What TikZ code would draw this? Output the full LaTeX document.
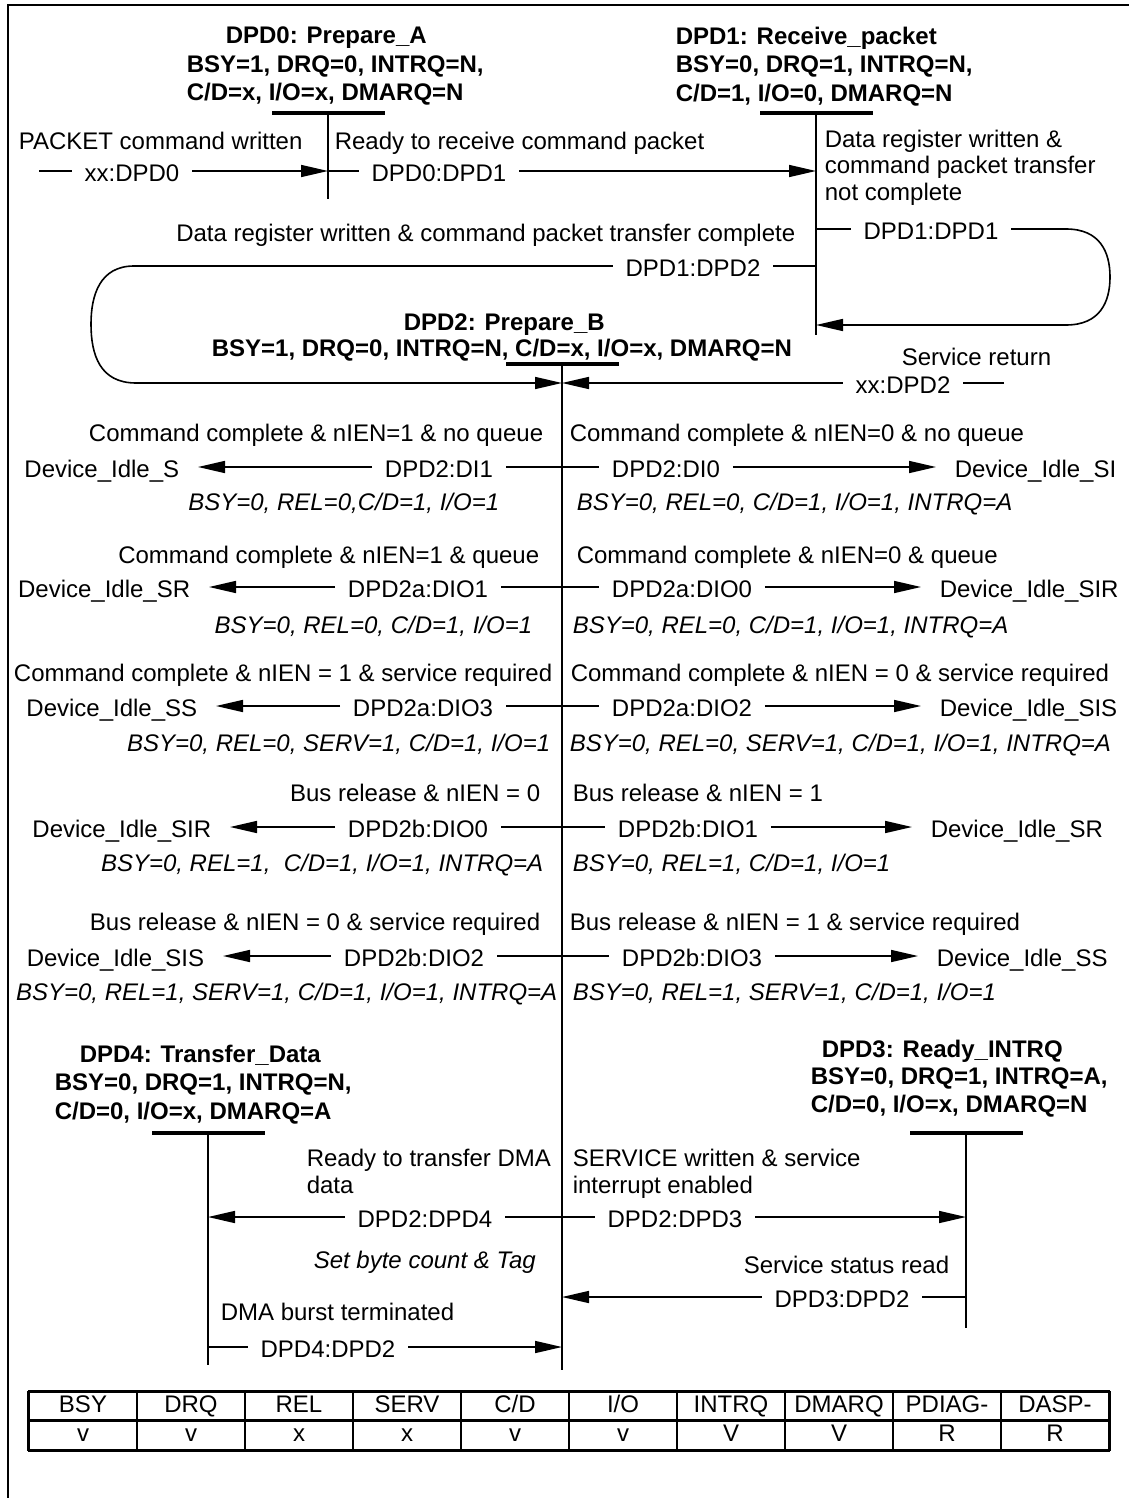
\documentclass[tikz,border=0pt]{standalone}
\usepackage{fontspec}
\setmainfont{Liberation Sans}
\usetikzlibrary{positioning}
\usetikzlibrary{arrows.meta}

\begin{document}
\begin{tikzpicture}[x=1pt,y=-1pt,line width=1.6pt,
  >={Triangle[length=27pt,width=12pt]},
  every node/.style={font=\fontsize{24}{27}\selectfont,inner sep=0pt},
  title/.style={font=\fontsize{24}{28.5}\selectfont\bfseries,align=left,anchor=north west},
  bar/.style={fill=black,minimum width=113pt,minimum height=4pt},
  lbl/.style={text height=22pt,text depth=1pt,inner xsep=12pt},
  dev/.style={text height=22pt,text depth=1pt,inner xsep=18pt},
  cond/.style={align=left,anchor=north west},
  note/.style={font=\fontsize{24}{27}\selectfont\itshape},
  cell/.style={draw,minimum width=108pt,minimum height=29pt,text height=17pt,text depth=6pt}]
\useasboundingbox (0,0) rectangle (1129,1498);
\draw[line width=2.5pt] (8,1498) -- (8,5) -- (1129,5);

% states
\node[title] (s0) at (186,26) {\hspace*{39pt}DPD0: Prepare\_A\\BSY=1, DRQ=0, INTRQ=N,\\C/D=x, I/O=x, DMARQ=N};
\node[title] (s1) at (675,26) {DPD1: Receive\_packet\\BSY=0, DRQ=1, INTRQ=N,\\C/D=1, I/O=0, DMARQ=N};
\node[title,font=\fontsize{24}{26}\selectfont\bfseries] (s2) at (211,313) {\hspace*{192pt}DPD2: Prepare\_B\\BSY=1, DRQ=0, INTRQ=N, C/D=x, I/O=x, DMARQ=N};
\node[title,font=\fontsize{24}{27.5}\selectfont\bfseries] (s3) at (810,1039) {\hspace*{11pt}DPD3: Ready\_INTRQ\\BSY=0, DRQ=1, INTRQ=A,\\C/D=0, I/O=x, DMARQ=N};
\node[title] (s4) at (54,1044) {\hspace*{25pt}DPD4: Transfer\_Data\\BSY=0, DRQ=1, INTRQ=N,\\C/D=0, I/O=x, DMARQ=A};

\node[bar] (b0) at (328,113) {};
\node[bar] (b1) at (816,113) {};
\node[bar] (b2) at (562,364) {};
\node[bar] (b3) at (966,1133) {};
\node[bar] (b4) at (208,1133) {};

\coordinate[below=86pt of b0.center] (e0);
\coordinate[below=222pt of b1.center] (e1);
\coordinate[below=1006pt of b2.center] (e2);
\coordinate[below=195pt of b3.center] (e3);
\coordinate[below=232pt of b4.center] (e4);
\draw (b0.center) -- (e0);
\draw (b1.center) -- (e1);
\draw (b2.center) -- (e2);
\draw (b3.center) -- (e3);
\draw (b4.center) -- (e4);

% top part
\node[anchor=base west] (c00) at (18,150) {PACKET command written};
\node[anchor=base west] (c01) at (334,150) {Ready to receive command packet};
\node[cond,font=\fontsize{24}{26.5}\selectfont] (c11) at (824,129) {Data register written \&\\command packet transfer\\not complete};
\node[anchor=base east] (c12) at (796,241) {Data register written \& command packet transfer complete};
\node[anchor=base west] (c22) at (901,365) {Service return};

\coordinate (x0) at (39,171);
\node[lbl] (t00) at (132,171) {xx:DPD0};
\draw[->] (x0) -- (t00) -- (b0 |- t00);

\node[lbl] (t01) at (439,171) {DPD0:DPD1};
\draw[->] (b0 |- t01) -- (t01) -- (b1 |- t01);

\node[lbl] (t11) at (931,229) {DPD1:DPD1};
\coordinate (r0) at (1066,229);
\coordinate (r1) at (1066,325);
\draw[->] (b1 |- t11) -- (t11) -- (r0) .. controls (1100,229) and (1110,252) .. (1110,277)
  .. controls (1110,302) and (1100,325) .. (r1) -- (b1 |- r1);

\node[lbl] (t12) at (693,266) {DPD1:DPD2};
\coordinate (l0) at (134,266);
\coordinate (l1) at (136,383);
\draw[->] (b1 |- t12) -- (t12) -- (l0) .. controls (100,266) and (91,295) .. (91,324)
  .. controls (91,355) and (100,383) .. (l1) -- (b2 |- l1);

\coordinate (x2) at (1004,383);
\node[lbl] (t22) at (903,383) {xx:DPD2};
\draw[->] (x2) -- (t22) -- (b2 |- t22);

% DPD2 to idle
\node[anchor=base east] (ca1) at (544,441) {Command complete \& nIEN=1 \& no queue};
\node[anchor=base west] (ca0) at (569,441) {Command complete \& nIEN=0 \& no queue};
\node[lbl] (ta1) at (439,467) {DPD2:DI1};
\node[dev,anchor=east] (da1) at (198,467) {Device\_Idle\_S};
\node[lbl] (ta0) at (666,467) {DPD2:DI0};
\node[dev,anchor=west] (da0) at (936,467) {Device\_Idle\_SI};
\draw[->] (b2 |- ta1) -- (ta1) -- (da1);
\draw[->] (b2 |- ta0) -- (ta0) -- (da0);
\node[note,anchor=base east] (na1) at (500,510) {BSY=0, REL=0,C/D=1, I/O=1};
\node[note,anchor=base west] (na0) at (576,510) {BSY=0, REL=0, C/D=1, I/O=1, INTRQ=A};

\node[anchor=base east] (cb1) at (540,563) {Command complete \& nIEN=1 \& queue};
\node[anchor=base west] (cb0) at (576,563) {Command complete \& nIEN=0 \& queue};
\node[lbl] (tb1) at (418,587) {DPD2a:DIO1};
\node[dev,anchor=east] (db1) at (209,587) {Device\_Idle\_SR};
\node[lbl] (tb0) at (682,587) {DPD2a:DIO0};
\node[dev,anchor=west] (db0) at (921,587) {Device\_Idle\_SIR};
\draw[->] (b2 |- tb1) -- (tb1) -- (db1);
\draw[->] (b2 |- tb0) -- (tb0) -- (db0);
\node[note,anchor=base east] (nb1) at (533,633) {BSY=0, REL=0, C/D=1, I/O=1};
\node[note,anchor=base west] (nb0) at (572,633) {BSY=0, REL=0, C/D=1, I/O=1, INTRQ=A};

\node[anchor=base east] (cc3) at (553,681) {Command complete \& nIEN = 1 \& service required};
\node[anchor=base west] (cc2) at (570,681) {Command complete \& nIEN = 0 \& service required};
\node[lbl] (tc3) at (423,706) {DPD2a:DIO3};
\node[dev,anchor=east] (dc3) at (216,706) {Device\_Idle\_SS};
\node[lbl] (tc2) at (682,706) {DPD2a:DIO2};
\node[dev,anchor=west] (dc2) at (921,706) {Device\_Idle\_SIS};
\draw[->] (b2 |- tc3) -- (tc3) -- (dc3);
\draw[->] (b2 |- tc2) -- (tc2) -- (dc2);
\node[note,anchor=base east] (nc3) at (551,751) {BSY=0, REL=0, SERV=1, C/D=1, I/O=1};
\node[note,anchor=base west] (nc2) at (569,751) {BSY=0, REL=0, SERV=1, C/D=1, I/O=1, INTRQ=A};

\node[anchor=base east] (cd0) at (541,801) {Bus release \& nIEN = 0};
\node[anchor=base west] (cd1) at (572,801) {Bus release \& nIEN = 1};
\node[lbl] (td0) at (418,827) {DPD2b:DIO0};
\node[dev,anchor=east] (dd0) at (230,827) {Device\_Idle\_SIR};
\node[lbl] (td1) at (688,827) {DPD2b:DIO1};
\node[dev,anchor=west] (dd1) at (912,827) {Device\_Idle\_SR};
\draw[->] (b2 |- td0) -- (td0) -- (dd0);
\draw[->] (b2 |- td1) -- (td1) -- (dd1);
\node[note,anchor=base east] (nd0) at (544,871) {BSY=0, REL=1,\ \ C/D=1, I/O=1, INTRQ=A};
\node[note,anchor=base west] (nd1) at (572,871) {BSY=0, REL=1, C/D=1, I/O=1};

\node[anchor=base east] (ce2) at (541,930) {Bus release \& nIEN = 0 \& service required};
\node[anchor=base west] (ce3) at (569,930) {Bus release \& nIEN = 1 \& service required};
\node[lbl] (te2) at (414,956) {DPD2b:DIO2};
\node[dev,anchor=east] (de2) at (223,956) {Device\_Idle\_SIS};
\node[lbl] (te3) at (692,956) {DPD2b:DIO3};
\node[dev,anchor=west] (de3) at (918,956) {Device\_Idle\_SS};
\draw[->] (b2 |- te2) -- (te2) -- (de2);
\draw[->] (b2 |- te3) -- (te3) -- (de3);
\node[note,anchor=base east] (ne2) at (558,1000) {BSY=0, REL=1, SERV=1, C/D=1, I/O=1, INTRQ=A};
\node[note,anchor=base west] (ne3) at (572,1000) {BSY=0, REL=1, SERV=1, C/D=1, I/O=1};

% DPD3 / DPD4
\node[cond] (c24) at (306,1148) {Ready to transfer DMA\\data};
\node[cond] (c23) at (572,1148) {SERVICE written \& service\\interrupt enabled};
\node[lbl] (t24) at (425,1217) {DPD2:DPD4};
\node[lbl] (t23) at (675,1217) {DPD2:DPD3};
\draw[->] (b2 |- t24) -- (t24) -- (b4 |- t24);
\draw[->] (b2 |- t23) -- (t23) -- (b3 |- t23);
\node[note,anchor=base west] (n24) at (313,1268) {Set byte count \& Tag};

\node[anchor=base east] (c32) at (950,1273) {Service status read};
\node[lbl] (t32) at (842,1297) {DPD3:DPD2};
\draw[->] (b3 |- t32) -- (t32) -- (b2 |- t32);

\node[anchor=base west] (c42) at (220,1320) {DMA burst terminated};
\node[lbl] (t42) at (328,1347) {DPD4:DPD2};
\draw[->] (b4 |- t42) -- (t42) -- (b2 |- t42);

% signal table
\foreach \h/\v [count=\i] in {BSY/v,DRQ/v,REL/x,SERV/x,C\slash D/v,I\slash O/v,INTRQ/V,DMARQ/V,PDIAG-/R,DASP-/R}{
  \node[cell] (h\i) at ({108*\i-25},1406.5) {\h};
  \node[cell] (v\i) at ({108*\i-25},1435.5) {\v};
}
\draw[line width=3pt] (h1.north west) -- (h10.north east);
\draw[line width=3pt] (v1.north west) -- (v10.north east);
\draw[line width=3pt] (v1.south west) -- (v10.south east);
\draw[line width=3pt] (h1.north west) -- (v1.south west);
\draw[line width=3pt] (h10.north east) -- (v10.south east);

\end{tikzpicture}
\end{document}
